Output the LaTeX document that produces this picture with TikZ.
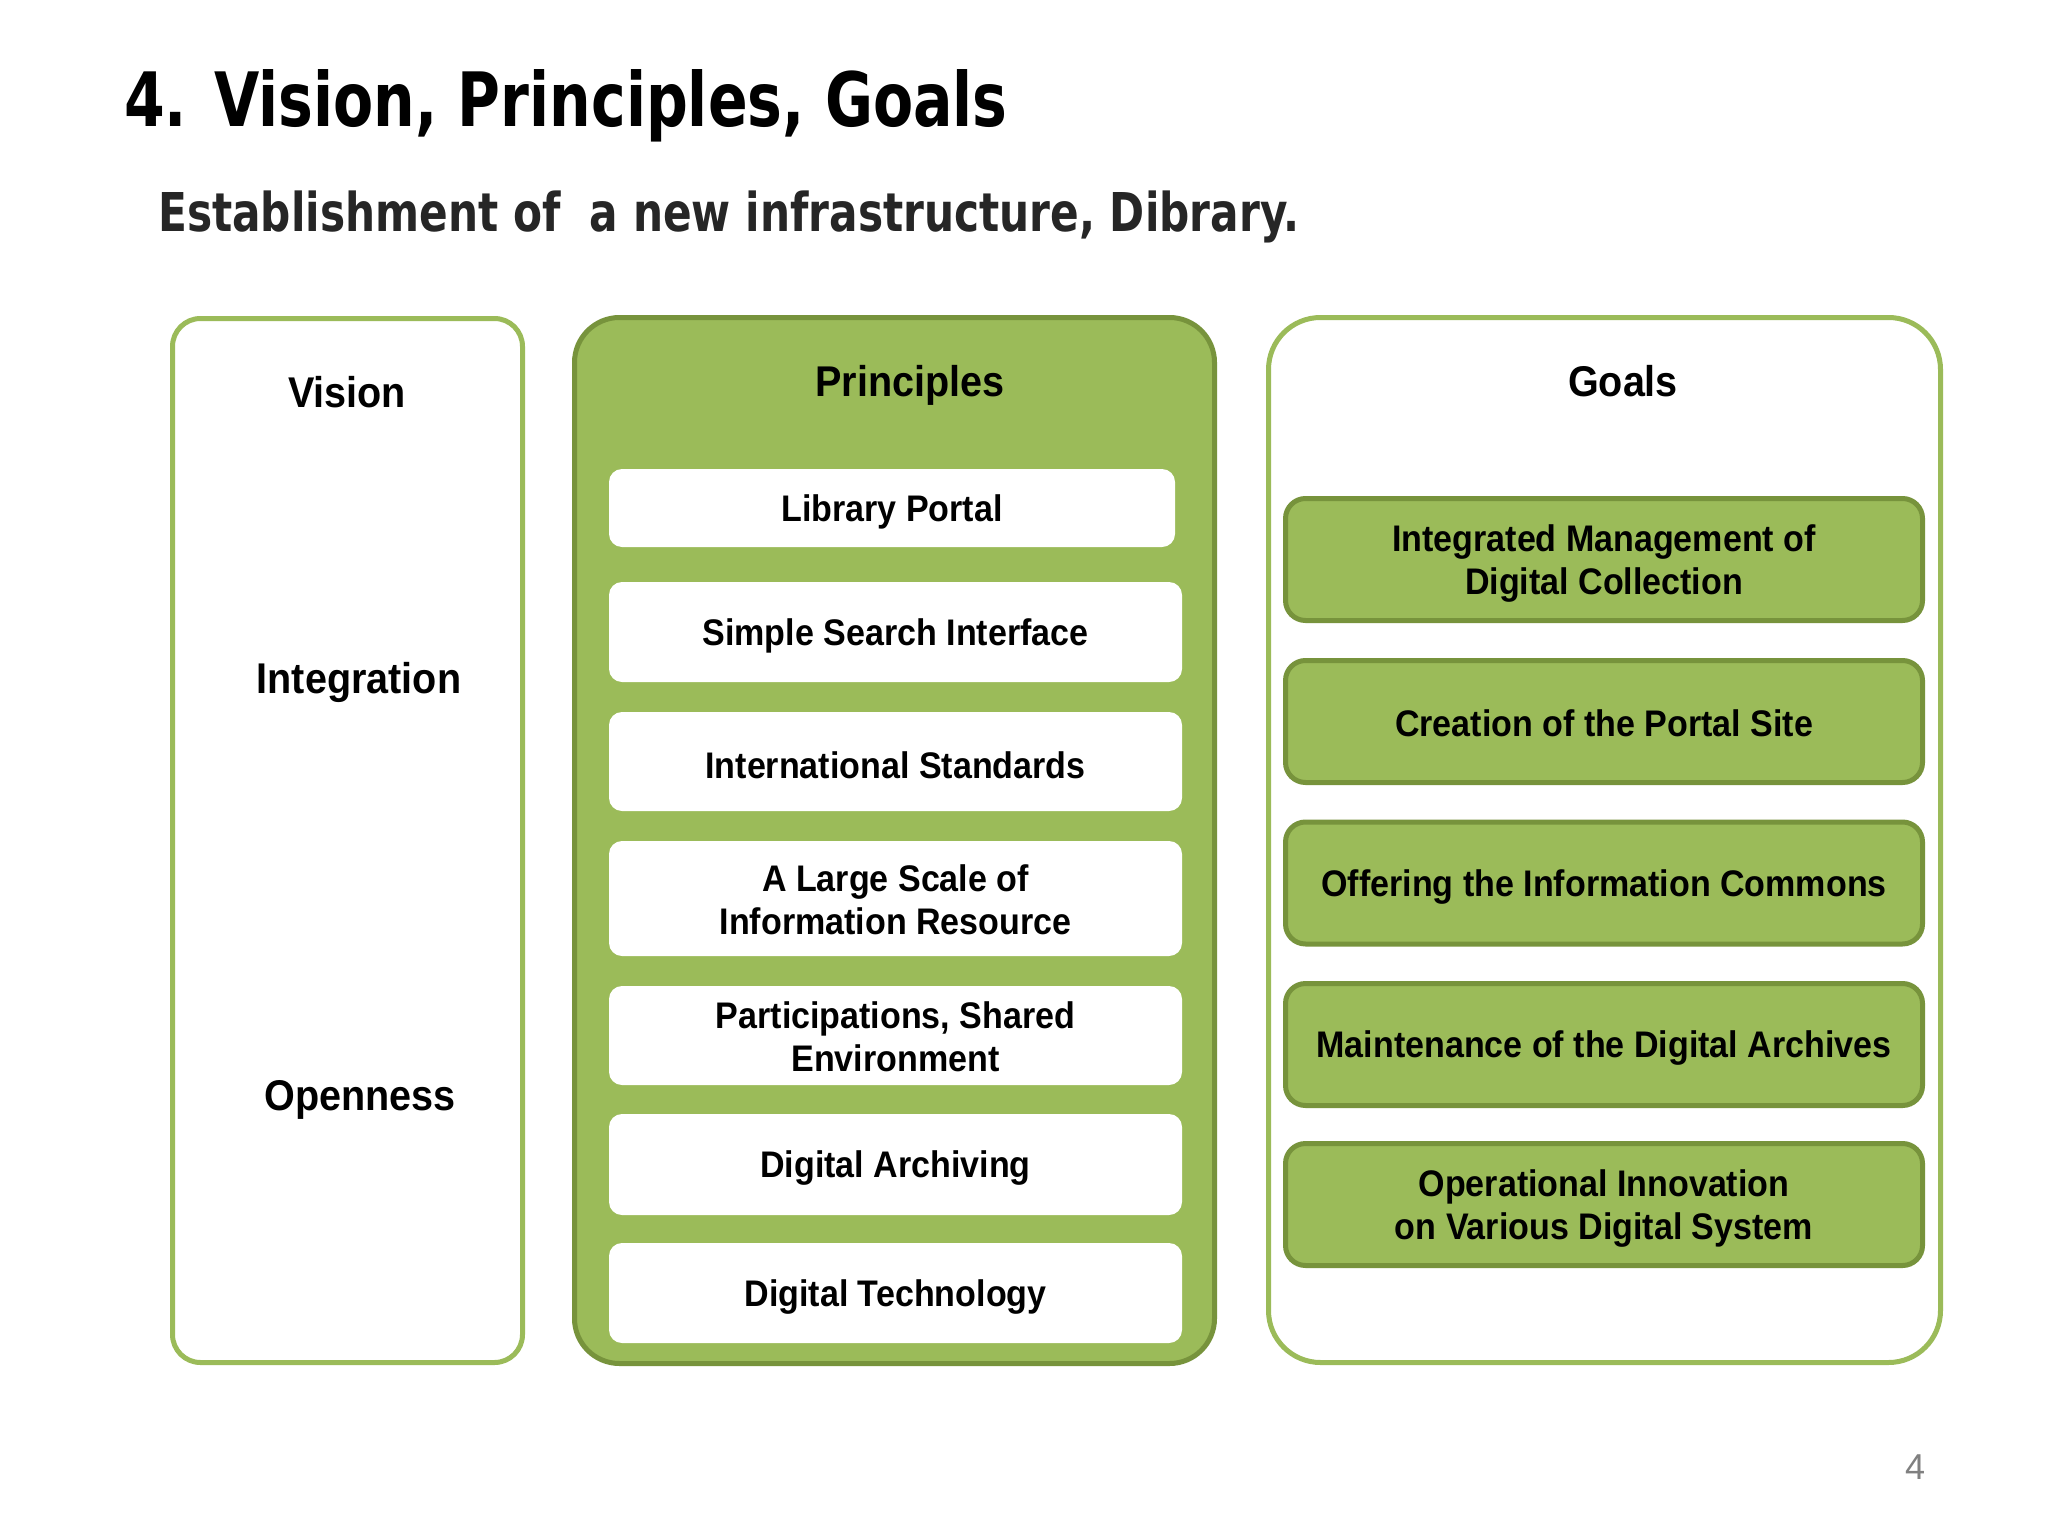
\documentclass[tikz,border=0pt]{standalone}
\usepackage{fontspec}
\newfontfamily\boxfont{Liberation Sans}[FakeStretch=0.92]
\newfontfamily\titlefont{DejaVu Sans}[FakeStretch=0.78]
\newfontfamily\subfont{DejaVu Sans}[FakeStretch=0.79]
\newfontfamily\numfont{Liberation Sans}
\definecolor{grn}{HTML}{9BBB59}
\definecolor{dkgrn}{HTML}{77933C}
\definecolor{subgray}{HTML}{262626}
\begin{document}
\begin{tikzpicture}[x=1pt,y=-1pt,
  panel/.style={draw=grn, line width=5pt, fill=white, rounded corners=28pt, inner sep=0pt},
  gpanel/.style={draw=dkgrn, line width=5pt, fill=grn, rounded corners=45pt, inner sep=0pt},
  wbox/.style={fill=white, rounded corners=13pt, inner sep=0pt},
  gbox/.style={draw=dkgrn, line width=5pt, fill=grn, rounded corners=20pt, inner sep=0pt,
    minimum width=637pt, minimum height=122pt},
  btxt/.style={inner sep=0pt, align=center, yshift=-4pt,
    font={\boxfont\bfseries\fontsize{37}{43}\selectfont}},
  hdr/.style={inner sep=0pt, yshift=-4pt, font={\boxfont\bfseries\fontsize{43}{48}\selectfont}},
  ttl/.style={inner sep=0pt, anchor=base west}
]
\useasboundingbox (0,0) rectangle (2048,1536);
\fill[white] (0,0) rectangle (2048,1536);

% titles
\node[ttl, font={\titlefont\bfseries\fontsize{75}{80}\selectfont}] (title) at (124,127) {4. Vision, Principles, Goals};
\node[ttl, text=subgray, font={\subfont\bfseries\fontsize{53.5}{58}\selectfont}] (subtitle) at (158,231) {Establishment of\ \ a new infrastructure, Dibrary.};

% Vision panel
\node[panel, minimum width=350pt, minimum height=1044pt] (vision) at (347.5,840.5) {};
\node[hdr] (visionh) at (347,388) {Vision};
\node[hdr] (integ) at (359,678) {Integration};
\node[hdr] (open) at (360,1096) {Openness};

% Principles panel
\node[gpanel, minimum width=640pt, minimum height=1046pt] (princ) at (894.5,840.5) {};
\node[hdr] (princh) at (910,381) {Principles};
\node[wbox, minimum width=566pt, minimum height=78pt] (p1) at (892,508) {};
\node[wbox, minimum width=573pt, minimum height=100pt] (p2) at (895.5,632) {};
\node[wbox, minimum width=573pt, minimum height=99pt] (p3) at (895.5,761.5) {};
\node[wbox, minimum width=573pt, minimum height=115pt] (p4) at (895.5,898.5) {};
\node[wbox, minimum width=573pt, minimum height=99pt] (p5) at (895.5,1035.5) {};
\node[wbox, minimum width=573pt, minimum height=101pt] (p6) at (895.5,1164.5) {};
\node[wbox, minimum width=573pt, minimum height=100pt] (p7) at (895.5,1293) {};
\node[btxt] (p1t) at (p1) {Library Portal};
\node[btxt] (p2t) at (p2) {Simple Search Interface};
\node[btxt] (p3t) at (p3) {International Standards};
\node[btxt, yshift=3pt] (p4t) at (p4) {A Large Scale of\\Information Resource};
\node[btxt, yshift=3pt] (p5t) at (p5) {Participations, Shared\\Environment};
\node[btxt] (p6t) at (p6) {Digital Archiving};
\node[btxt] (p7t) at (p7) {Digital Technology};

% Goals panel
\node[panel, rounded corners=52pt, minimum width=672pt, minimum height=1045pt] (goals) at (1604.5,840) {};
\node[hdr] (goalsh) at (1623,377) {Goals};
\node[gbox] (g1) at (1604,559.5) {};
\node[gbox] (g2) at (1604,721.5) {};
\node[gbox] (g3) at (1604,883) {};
\node[gbox] (g4) at (1604,1044.5) {};
\node[gbox] (g5) at (1604,1204.5) {};
\node[btxt] (g1t) at (g1) {Integrated Management of\\Digital Collection};
\node[btxt, yshift=2pt] (g2t) at (g2) {Creation of the Portal Site};
\node[btxt] (g3t) at (g3) {Offering the Information Commons};
\node[btxt] (g4t) at (g4) {Maintenance of the Digital Archives};
\node[btxt] (g5t) at (g5) {Operational Innovation\\on Various Digital System};

% page number
\node[inner sep=0pt, text=gray, font={\numfont\fontsize{36}{40}\selectfont}] (pnum) at (1915,1467) {4};
\end{tikzpicture}
\end{document}
